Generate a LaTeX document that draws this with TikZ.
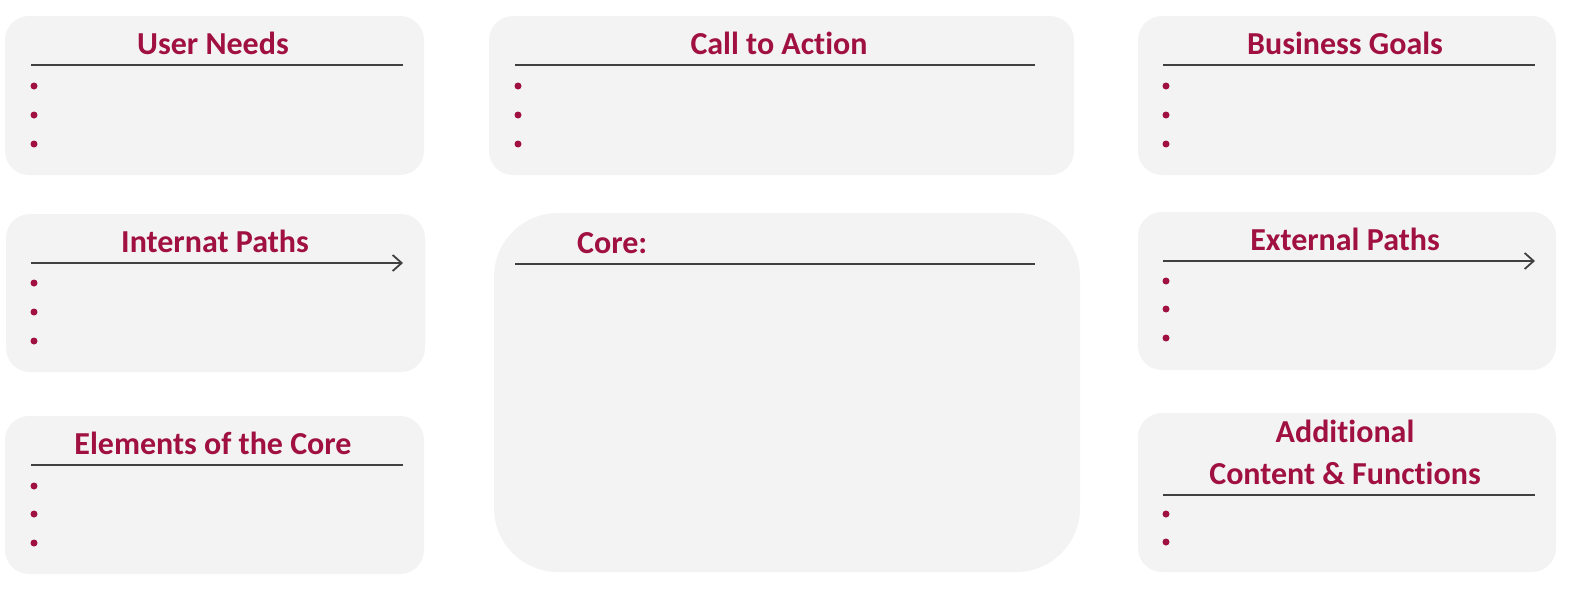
\documentclass[tikz,border=0pt]{standalone}
\usepackage{fontspec}
\setmainfont{Carlito}[Ligatures={NoCommon}]
\usetikzlibrary{arrows.meta}
\definecolor{maroon}{RGB}{160,16,64}
\definecolor{boxgray}{RGB}{243,243,243}
\definecolor{linegray}{RGB}{64,64,64}
\tikzset{
  panel/.style={fill=boxgray, draw=none, rounded corners=24pt},
  title/.style={text=maroon, font=\bfseries\fontsize{32}{38}\selectfont, anchor=base, inner sep=0pt},
  sep/.style={draw=linegray, line width=1.1pt},
  patharrow/.style={draw=linegray, line width=1.8pt, -{Straight Barb[length=9pt,width=16pt,line width=1.8pt]}},
  dot/.style={fill=maroon, circle, inner sep=0pt, minimum size=7pt}
}
\begin{document}
\begin{tikzpicture}[x=1pt,y=-1pt]
\useasboundingbox (0,0) rectangle (1570,589);
% panels
\filldraw[panel] (5,16) rectangle (424,175);
\filldraw[panel] (489,16) rectangle (1074,175);
\filldraw[panel] (1138,16) rectangle (1556,175);
\filldraw[panel] (6,214) rectangle (425,372);
\filldraw[panel, rounded corners=64pt] (494,213) rectangle (1080,572);
\filldraw[panel] (1138,212) rectangle (1556,370);
\filldraw[panel] (5,416) rectangle (424,574);
\filldraw[panel] (1138,413) rectangle (1556,572);
% titles
\node[title] (tun) at (213,54) {User Needs};
\node[title] (tca) at (779,54) {Call to Action};
\node[title] (tbg) at (1345,54) {Business Goals};
\node[title] (tip) at (215,252) {Internat Paths};
\node[title, anchor=base west] (tco) at (577,253) {Core:};
\node[title] (tep) at (1345,250) {External Paths};
\node[title] (tel) at (213,454) {Elements of the Core};
\node[title] (tad1) at (1345,442) {Additional};
\node[title] (tad2) at (1345,484) {Content \& Functions};
% separators
\draw[sep] (31,65) -- (403,65);
\draw[sep] (515,65) -- (1035,65);
\draw[sep] (1163,65) -- (1535,65);
\draw[sep] (515,264) -- (1035,264);
\draw[sep] (31,465) -- (403,465);
\draw[sep] (1163,495) -- (1535,495);
\draw[patharrow] (31,263) -- (403,263);
\draw[patharrow] (1163,261) -- (1535,261);
% bullets
\foreach \y [count=\i] in {86,115,144} {
  \node[dot] (bun\i) at (34,\y) {};
  \node[dot] (bca\i) at (518,\y) {};
  \node[dot] (bbg\i) at (1166,\y) {};
}
\foreach \y [count=\i] in {283,312,341} { \node[dot] (bip\i) at (34,\y) {}; }
\foreach \y [count=\i] in {281,309,338} { \node[dot] (bep\i) at (1166,\y) {}; }
\foreach \y [count=\i] in {486,514,543} { \node[dot] (bel\i) at (34,\y) {}; }
\foreach \y [count=\i] in {514,542} { \node[dot] (bad\i) at (1166,\y) {}; }
\end{tikzpicture}
\end{document}
